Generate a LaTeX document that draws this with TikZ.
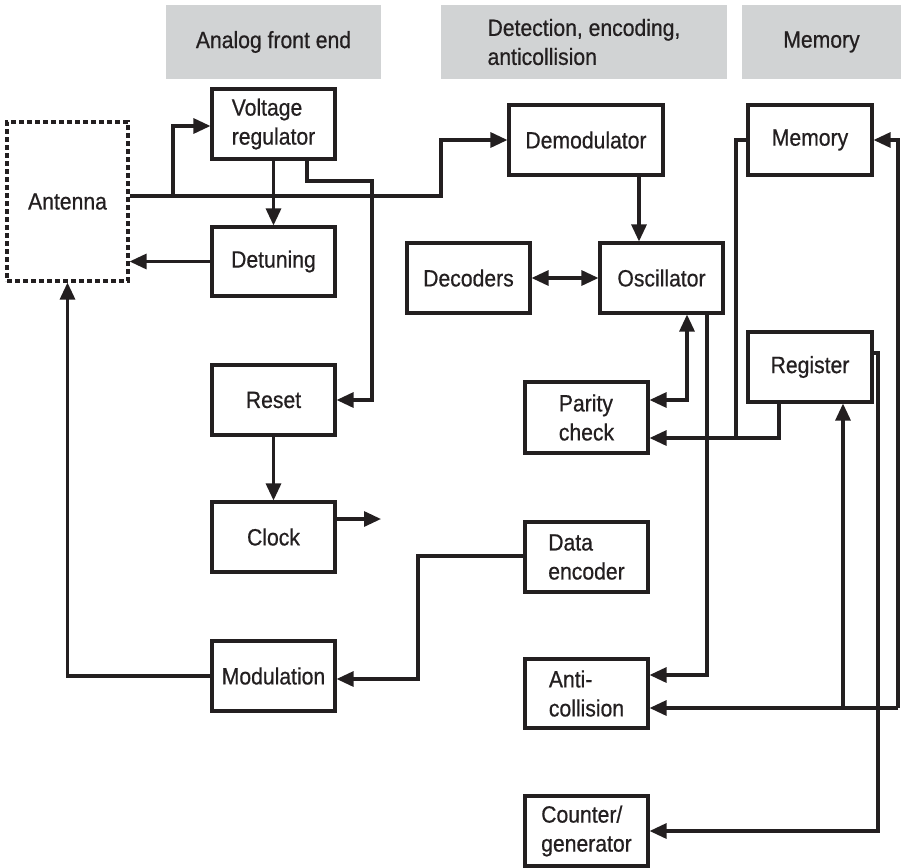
\documentclass[tikz,border=0pt]{standalone}
\usepackage{fontspec}
\setmainfont{Liberation Sans}[FakeStretch=0.9,FakeBold=0.6]
\usetikzlibrary{arrows.meta}
\definecolor{ink}{HTML}{231F20}
\definecolor{hdr}{HTML}{D1D3D4}
\begin{document}
\begin{tikzpicture}[x=1pt,y=-1pt,
  font=\fontsize{23.5}{29}\selectfont,
  box/.style={draw=ink, line width=3.1pt, fill=white, text=ink,
    minimum width=123pt, minimum height=70pt, align=left, inner sep=0pt},
  hdrbox/.style={fill=hdr, text=ink, align=left, inner sep=0pt, minimum height=74pt},
  conn/.style={draw=ink, line width=3.1pt},
  tip/.tip={Triangle[length=17pt,width=15pt]},
  arr/.style={conn, -tip},
  darr/.style={conn, tip-tip}]
\useasboundingbox (0,0) rectangle (901,867);

% headers
\node[hdrbox, minimum width=215pt] (h1) at (273.5,42) {Analog front end};
\node[hdrbox, minimum width=286pt] (h2) at (584,42) {Detection, encoding,\\anticollision};
\node[hdrbox, minimum width=159pt] (h3) at (821.5,42) {Memory};

% nodes
\node[box, dash pattern=on 5pt off 3pt, minimum width=121pt, minimum height=159pt] (ant) at (67.5,201.5) {Antenna};
\node[box] (vr) at (273.5,124) {Voltage\\regulator};
\node[box, minimum height=69pt] (det) at (273.5,261.5) {Detuning};
\node[box] (reset) at (273.5,400) {Reset};
\node[box] (clock) at (273.5,537) {Clock};
\node[box] (mod) at (273.5,676) {Modulation};
\node[box, minimum width=154pt] (demod) at (586,140) {Demodulator};
\node[box, minimum width=124pt] (mem) at (810,140) {Memory};
\node[box] (dec) at (468.5,278) {Decoders};
\node[box] (osc) at (661.5,278) {Oscillator};
\node[box, minimum width=124pt] (reg) at (810,367) {Register};
\node[box, minimum height=71pt] (par) at (586.5,417.5) {Parity\\check};
\node[box] (enc) at (586.5,557) {Data\\encoder};
\node[box, minimum height=69pt] (acol) at (586.5,693.5) {Anti-\\collision};
\node[box] (cnt) at (586.5,831) {Counter/\\generator};

% helper coordinates
\coordinate (a1) at (441,196);
\coordinate (a2) at (173,196);
\coordinate (v1) at (307,181);
\coordinate (v2) at (372,181);
\coordinate (ck) at (381,519);
\coordinate (e1) at (418,556);
\coordinate (d1) at (639,0);
\coordinate (o1) at (687,400);
\coordinate (o2) at (707,675);
\coordinate (m1) at (736,438);
\coordinate (r1) at (779,438);
\coordinate (r2) at (878,353);
\coordinate (b1) at (898,708);
\coordinate (b2) at (843,708);

% analog front end
\draw[arr] (ant.east |- a1) -- (a1) |- (demod.west);
\draw[arr] (a2) |- ([yshift=-2pt]vr.west);
\draw[arr] (vr.south) -- (det.north);
\draw[arr] (vr.south -| v1) -- (v1) -- (v2) |- (reset.east);
\draw[arr] (det.west) -- (det.west -| ant.east);
\draw[arr] (mod.west) -| (ant.south);
\draw[arr] (reset.south) -- (clock.north);
\draw[arr] (clock.east |- ck) -- (ck);
\draw[arr] (enc.west |- e1) -- (e1) |- ([yshift=-3pt]mod.east);

% detection
\draw[arr] (demod.south -| d1) -- (osc.north -| d1);
\draw[darr] (dec.east) -- (osc.west);
\draw[darr] (osc.south -| o1) -- (o1) -- (par.east |- o1);
\draw[arr] (osc.south -| o2) -- (o2) -- (acol.east |- o2);

% memory
\draw[conn] (mem.west) -| (m1);
\draw[arr] (reg.south -| r1) -- (r1) -- (par.east |- r1);
\draw[arr] (reg.east |- r2) -| (cnt.east -| r2) -- (cnt.east);
\draw[arr] (b1) -- (acol.east |- b1);
\draw[arr] (b1) |- (mem.east);
\draw[arr] (b2) -- (reg.south -| b2);
\end{tikzpicture}
\end{document}
